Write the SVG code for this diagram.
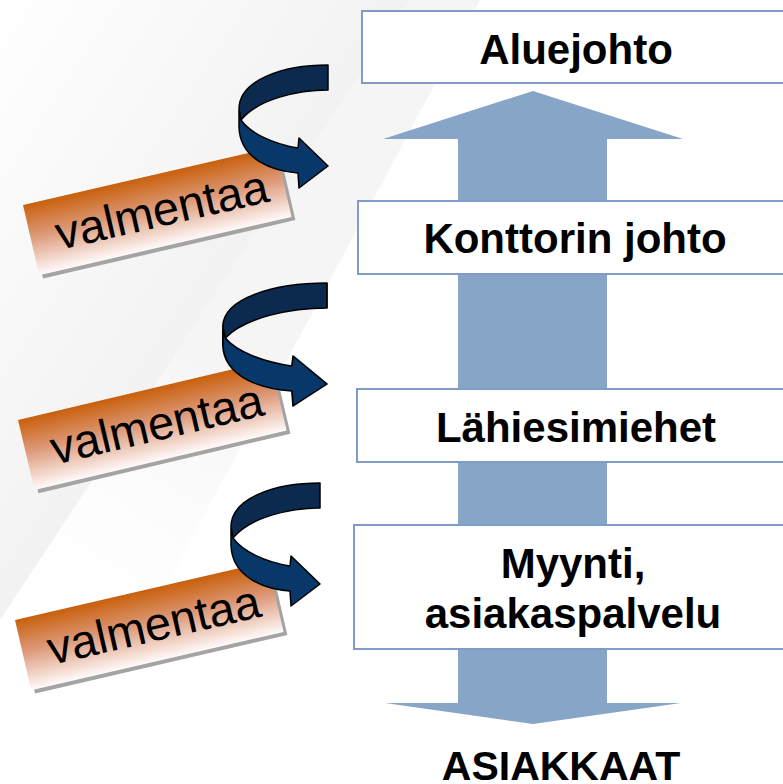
<svg xmlns="http://www.w3.org/2000/svg" xmlns:xlink="http://www.w3.org/1999/xlink" width="783" height="784" viewBox="0 0 783 784">
<style>
.box{fill:#ffffff;stroke:#7f9cc6;stroke-width:2}
.bt{font-family:"Liberation Sans",Arial,sans-serif;font-weight:bold;font-size:42px;fill:#000;text-anchor:middle}
.lt{font-family:"Liberation Sans",Arial,sans-serif;font-size:47px;fill:#000;text-anchor:middle}
.back{fill:#0c2a4f;stroke:#000;stroke-width:1.5;stroke-linejoin:round}
.front{fill:#08386a;stroke:#000;stroke-width:1.5;stroke-linejoin:round}
</style>
<defs>
<linearGradient id="bg" gradientUnits="userSpaceOnUse" x1="0" y1="0" x2="285" y2="189">
<stop offset="0" stop-color="#ffffff"/>
<stop offset="1" stop-color="#f2f2f2"/>
</linearGradient>
<linearGradient id="bg2" gradientUnits="userSpaceOnUse" x1="120" y1="700" x2="300" y2="420">
<stop offset="0" stop-color="#ffffff" stop-opacity="0"/>
<stop offset="1" stop-color="#f5f5f5"/>
</linearGradient>
<linearGradient id="lab" x1="0" y1="0" x2="0" y2="1">
<stop offset="0" stop-color="#c9600c"/>
<stop offset="0.45" stop-color="#dc9877"/>
<stop offset="1" stop-color="#fffafa"/>
</linearGradient>
<g id="curl">
<path class="back" d="M0,0 C-45,0 -89,15 -89,44 L-87,55 C-70,34 -30,25 0,25 Z"/>
<path class="front" d="M-87,55 C-78,68 -55,79 -30,83 L-29,73 L0,101 L-29,123 L-30,108 C-55,106 -88,95 -89,62 L-89,46 Z"/>
</g>
<g id="label">
<rect x="3" y="4" width="259" height="72" fill="#a4a4a4"/>
<rect x="0" y="0" width="259" height="72" fill="url(#lab)"/>
<text class="lt" x="134" y="52">valmentaa</text>
</g>
</defs>
<rect x="0" y="0" width="783" height="784" fill="#ffffff"/>
<polygon points="0,0 410,0 0,620" fill="url(#bg)"/>
<polygon points="410,0 480,0 60,784 0,784 0,620" fill="url(#bg2)"/>

<g id="bigarrow">
<polygon points="533,91 683,139 607,139 607,703 681,703 533,724 385,703 458,703 458,139 383,139" fill="#87a5c6"/>
</g>

<g id="n-aluejohto">
<rect class="box" x="362" y="11" width="440" height="72"/>
<text class="bt" x="576" y="64">Aluejohto</text>
</g>
<g id="n-konttori">
<rect class="box" x="358" y="201" width="440" height="73"/>
<text class="bt" x="575" y="253">Konttorin johto</text>
</g>
<g id="n-lahiesimiehet">
<rect class="box" x="357" y="389" width="440" height="73"/>
<text class="bt" x="576" y="442">Lähiesimiehet</text>
</g>
<g id="n-myynti">
<rect class="box" x="354" y="525" width="440" height="124"/>
<text class="bt" x="573" y="578">Myynti,</text>
<text class="bt" x="573" y="628">asiakaspalvelu</text>
</g>
<g id="n-asiakkaat">
<text class="bt" x="561" y="780" style="font-size:41px">ASIAKKAAT</text>
</g>

<g id="l1"><use xlink:href="#label" transform="translate(23,205) rotate(-13)"/></g>
<g id="l2"><use xlink:href="#label" transform="translate(18,420) rotate(-13.3)"/></g>
<g id="l3"><use xlink:href="#label" transform="translate(15,620) rotate(-13)"/></g>

<g id="connectors">
<use xlink:href="#curl" transform="translate(328,65)"/>
<use xlink:href="#curl" transform="translate(327,283) scale(1.17,1)"/>
<use xlink:href="#curl" transform="translate(320,483)"/>
</g>
</svg>
